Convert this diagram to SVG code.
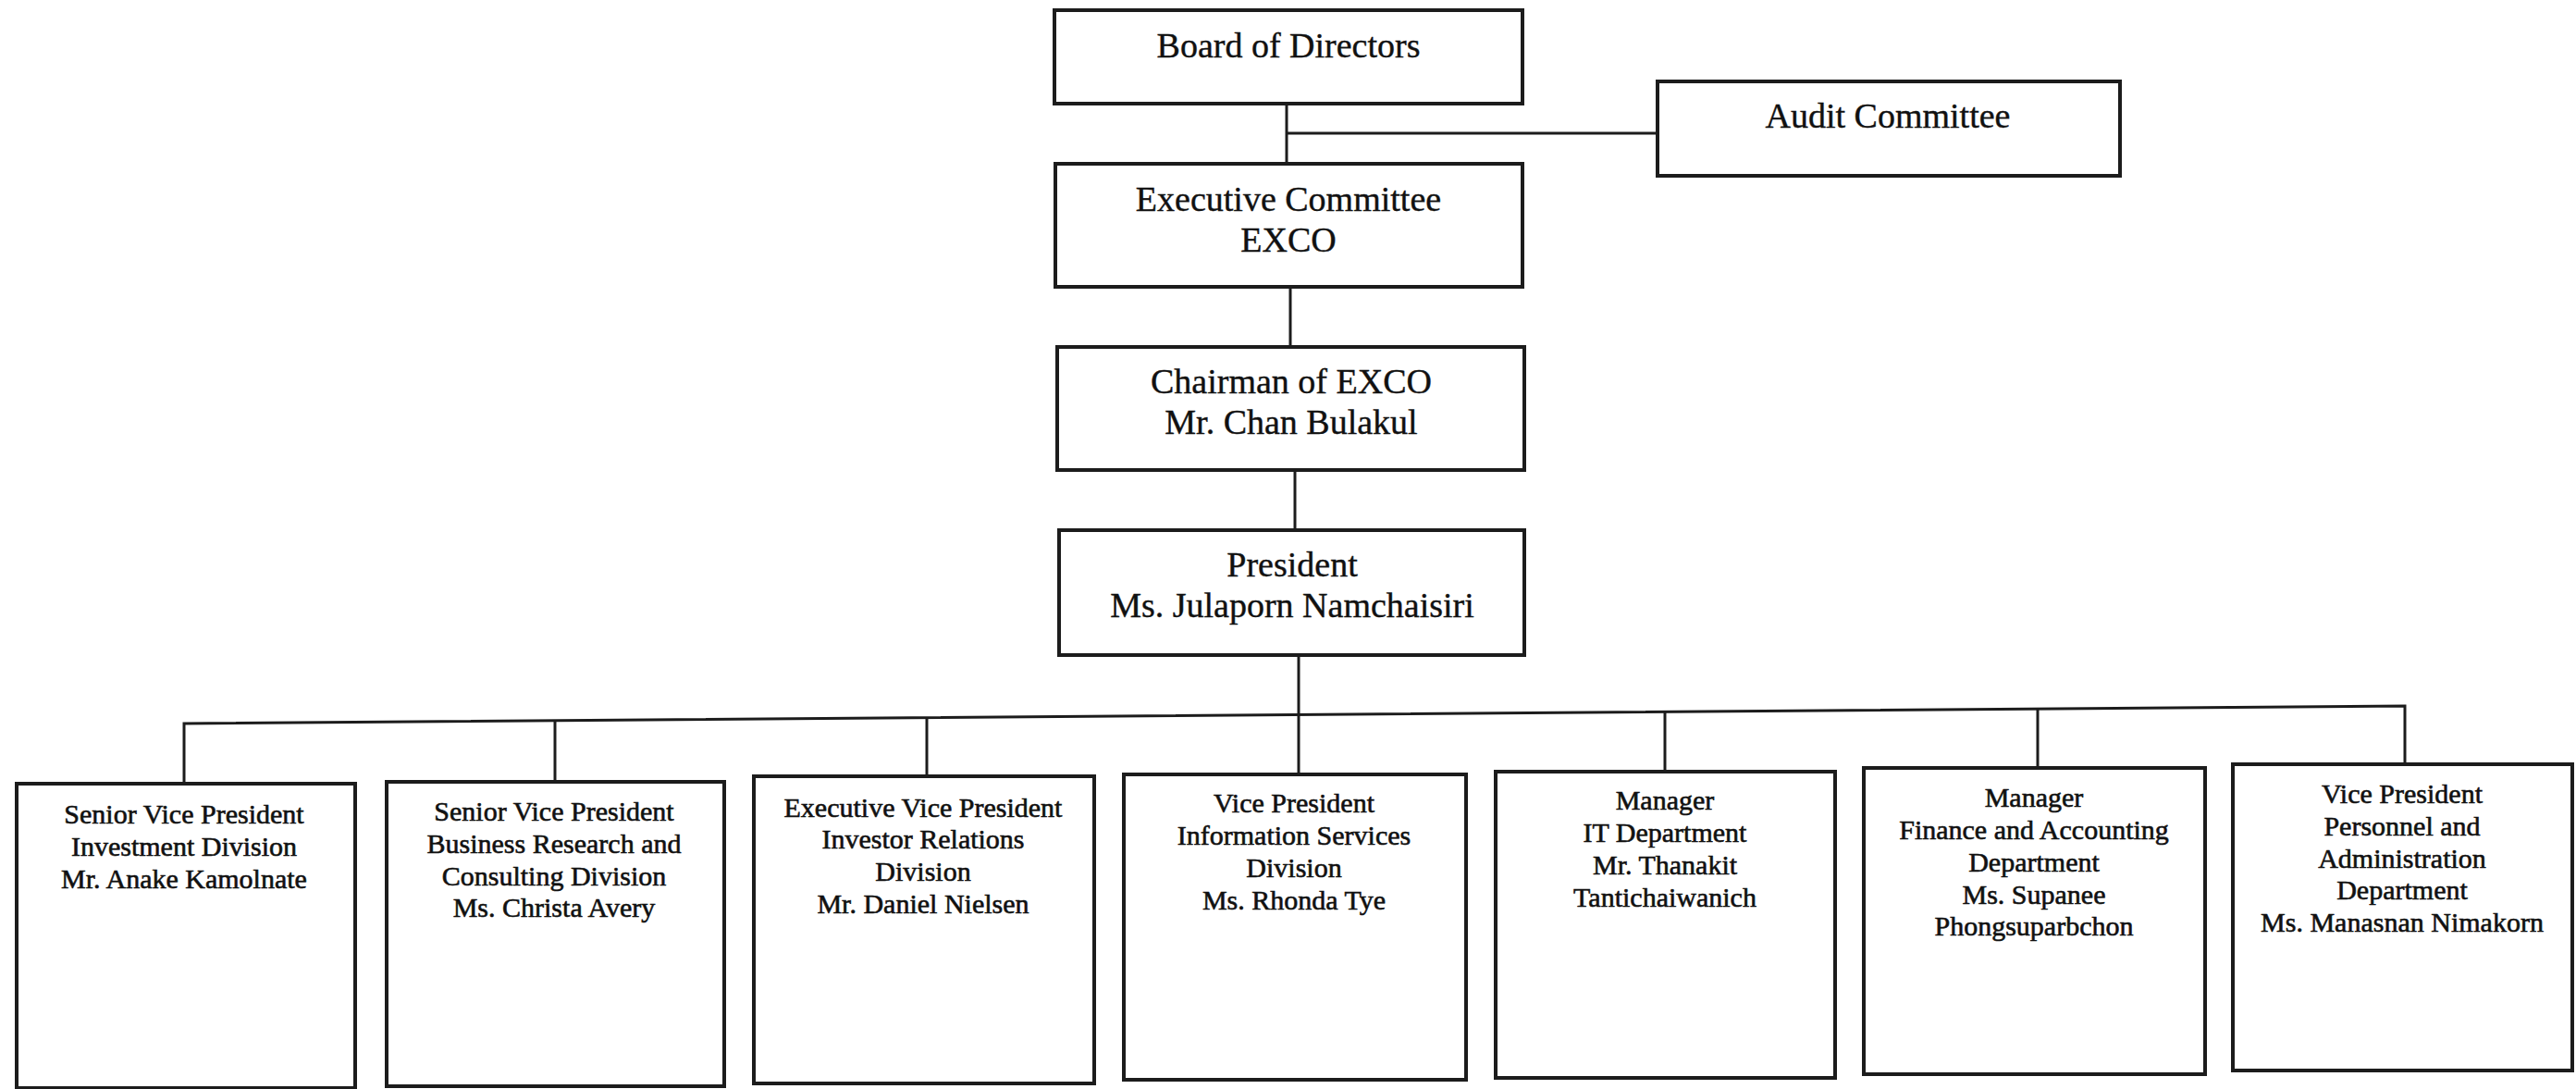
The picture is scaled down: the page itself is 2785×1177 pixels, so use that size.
<svg xmlns="http://www.w3.org/2000/svg" width="2785" height="1177" viewBox="0 0 2785 1177">
<style>
.box{fill:#fff;stroke:#1c1c1c;stroke-width:4}
.ln{stroke:#1c1c1c;stroke-width:3;fill:none}
.t1{font-family:"Liberation Serif","Times New Roman",serif;font-size:38px;fill:#111;stroke:#111;stroke-width:0.4;text-anchor:middle}
.t2{font-family:"Liberation Serif","Times New Roman",serif;font-size:30px;fill:#111;stroke:#111;stroke-width:0.6;text-anchor:middle}
</style>
<rect width="2785" height="1177" fill="#fff"/>
<g id="connectors">
<line class="ln" x1="1391" y1="112" x2="1391" y2="177"/>
<line class="ln" x1="1391" y1="144" x2="1792" y2="144"/>
<line class="ln" x1="1395" y1="310" x2="1395" y2="375"/>
<line class="ln" x1="1400" y1="508" x2="1400" y2="573"/>
<line class="ln" x1="1404" y1="708" x2="1404" y2="837"/>
<polyline class="ln" points="199,847 199,782 2600,763 2600,826"/>
<line class="ln" x1="600" y1="779" x2="600" y2="845"/>
<line class="ln" x1="1002" y1="776" x2="1002" y2="839"/>
<line class="ln" x1="1800" y1="769" x2="1800" y2="834"/>
<line class="ln" x1="2203" y1="766" x2="2203" y2="830"/>
</g>
<g id="board">
<rect class="box" x="1140" y="11" width="506" height="101"/>
<text class="t1" x="1393" y="62">Board of Directors</text>
</g>
<g id="audit">
<rect class="box" x="1792" y="88" width="500" height="102"/>
<text class="t1" x="2041" y="138">Audit Committee</text>
</g>
<g id="exco">
<rect class="box" x="1141" y="177" width="505" height="133"/>
<text class="t1" x="1393" y="228">Executive Committee</text>
<text class="t1" x="1393" y="272">EXCO</text>
</g>
<g id="chairman">
<rect class="box" x="1143" y="375" width="505" height="133"/>
<text class="t1" x="1396" y="425">Chairman of EXCO</text>
<text class="t1" x="1396" y="469">Mr. Chan Bulakul</text>
</g>
<g id="president">
<rect class="box" x="1145" y="573" width="503" height="135"/>
<text class="t1" x="1397" y="623">President</text>
<text class="t1" x="1397" y="667">Ms. Julaporn Namchaisiri</text>
</g>
<g id="svp-investment">
<rect class="box" x="18" y="847" width="366" height="329"/>
<text class="t2" x="199" y="890">Senior Vice President</text>
<text class="t2" x="199" y="925">Investment Division</text>
<text class="t2" x="199" y="960">Mr. Anake Kamolnate</text>
</g>
<g id="svp-research">
<rect class="box" x="418" y="845" width="365" height="329"/>
<text class="t2" x="599" y="887">Senior Vice President</text>
<text class="t2" x="599" y="922">Business Research and</text>
<text class="t2" x="599" y="957">Consulting Division</text>
<text class="t2" x="599" y="991">Ms. Christa Avery</text>
</g>
<g id="evp-ir">
<rect class="box" x="815" y="839" width="368" height="332"/>
<text class="t2" x="998" y="883">Executive Vice President</text>
<text class="t2" x="998" y="917">Investor Relations</text>
<text class="t2" x="998" y="952">Division</text>
<text class="t2" x="998" y="987">Mr. Daniel Nielsen</text>
</g>
<g id="vp-is">
<rect class="box" x="1215" y="837" width="370" height="330"/>
<text class="t2" x="1399" y="878">Vice President</text>
<text class="t2" x="1399" y="913">Information Services</text>
<text class="t2" x="1399" y="948">Division</text>
<text class="t2" x="1399" y="983">Ms. Rhonda Tye</text>
</g>
<g id="mgr-it">
<rect class="box" x="1617" y="834" width="367" height="331"/>
<text class="t2" x="1800" y="875">Manager</text>
<text class="t2" x="1800" y="910">IT Department</text>
<text class="t2" x="1800" y="945">Mr. Thanakit</text>
<text class="t2" x="1800" y="980">Tantichaiwanich</text>
</g>
<g id="mgr-finance">
<rect class="box" x="2015" y="830" width="369" height="331"/>
<text class="t2" x="2199" y="872">Manager</text>
<text class="t2" x="2199" y="907">Finance and Accounting</text>
<text class="t2" x="2199" y="942">Department</text>
<text class="t2" x="2199" y="977">Ms. Supanee</text>
<text class="t2" x="2199" y="1011">Phongsuparbchon</text>
</g>
<g id="vp-personnel">
<rect class="box" x="2414" y="826" width="367" height="331"/>
<text class="t2" x="2597" y="868">Vice President</text>
<text class="t2" x="2597" y="903">Personnel and</text>
<text class="t2" x="2597" y="938">Administration</text>
<text class="t2" x="2597" y="972">Department</text>
<text class="t2" x="2597" y="1007">Ms. Manasnan Nimakorn</text>
</g>
</svg>
